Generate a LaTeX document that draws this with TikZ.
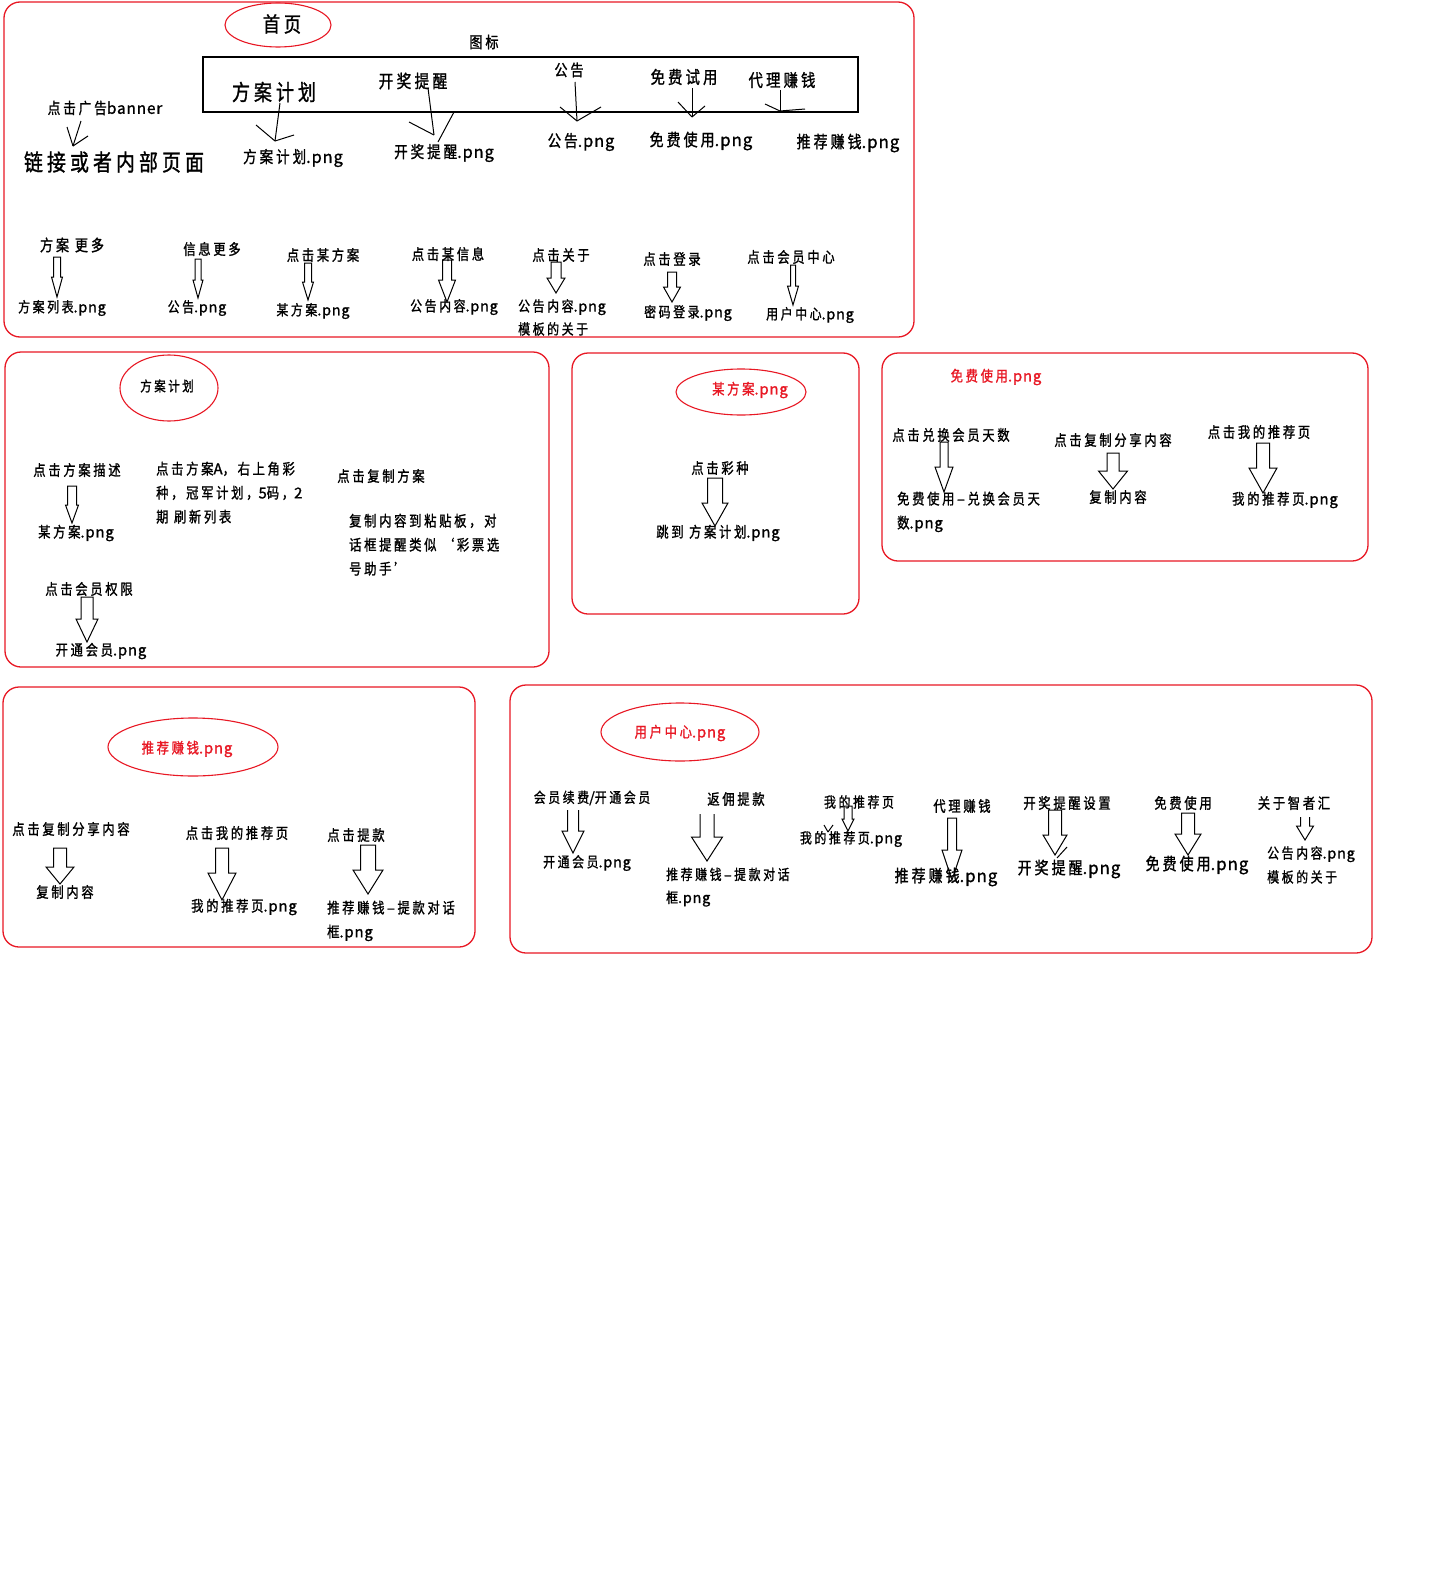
\documentclass[tikz,border=0pt]{standalone}
\usepackage{fontspec}
\usetikzlibrary{calc,shapes.geometric}
\newfontfamily\cjk[FakeStretch=0.82,LetterSpace=18,FakeBold=1.2]{Noto Sans CJK SC}
\newfontfamily\lat[LetterSpace=5,FakeBold=1.2]{Noto Sans CJK SC}
\newcommand\png{{\lat.png}}
\newcommand\dsh{{\lat\,–\,}}
\definecolor{pred}{RGB}{232,24,36}
\tikzset{
  panel/.style={draw=pred, line width=1.3pt, rounded corners=16pt},
  oval/.style={draw=pred, line width=1.1pt, ellipse, inner sep=0pt},
  lbl/.style={inner sep=0pt, font={\cjk\fontsize{15}{15}\selectfont}},
  fs/.style={font={\cjk\fontsize{#1}{#1}\selectfont}},
  fsl/.style 2 args={font={\cjk\fontsize{#1}{#2}\selectfont}, align=left, anchor=north west},
  rt/.style={text=pred},
  barr/.style={draw=black, line width=1pt, line join=miter},
  sk/.style={draw=black, line width=1pt}
}
% block arrow: name, x, ytop, yhead, ytip, shaft half width, head half width
\newcommand\barrow[7]{%
  \coordinate (#1t) at (#2,#3);
  \coordinate (#1h) at (#2,#5);
  \draw[barr] ($(#1t)+(-#6,0)$) -- (#2-#6,#4) -- (#2-#7,#4) -- (#1h) -- (#2+#7,#4) -- (#2+#6,#4) -- ($(#1t)+(#6,0)$) -- cycle;}
\newcommand\obarrow[7]{%
  \coordinate (#1t) at (#2,#3);
  \coordinate (#1h) at (#2,#5);
  \draw[barr] ($(#1t)+(-#6,0)$) -- (#2-#6,#4) -- (#2-#7,#4) -- (#1h) -- (#2+#7,#4) -- (#2+#6,#4) -- ($(#1t)+(#6,0)$);}
\begin{document}
\begin{tikzpicture}[x=1pt,y=-1pt]
\useasboundingbox[fill=white] (0,0) rectangle (1440,1592);

% ================= Panel 1 : home =================
\draw[panel] (4,2) rectangle (914,337);
\node[oval, minimum width=106, minimum height=44] (home) at (278,25) {};
\node[lbl, fs=21] (homet) at (282,24) {首页};
\node[lbl, fs=16] (icon) at (484,42) {图标};
\node[draw, line width=1.3pt, minimum width=655, minimum height=55, inner sep=0pt] (iconbar) at (530.5,84.5) {};
\node[lbl, fs=22] (tplan) at (274,92) {方案计划};
\node[lbl, fs=18] (tkj) at (413,81) {开奖提醒};
\node[lbl, fs=16] (tgg) at (569,70) {公告};
\node[lbl, fs=17.5] (tmf) at (684,77) {免费试用};
\node[lbl, fs=17.5] (tdl) at (782,80) {代理赚钱};
\node[lbl, fs=15.5] (tban) at (105,108) {点击广告{\lat banner}};
\node[lbl, fs=23] (tlink) at (114,162) {链接或者内部页面};
\node[lbl, fs=16.5] (pplan) at (293,158) {方案计划\png};
\node[lbl, fs=16.5] (pkj) at (444,153) {开奖提醒\png};
\node[lbl, fs=16.5] (pgg) at (581,142) {公告\png};
\node[lbl, fs=17] (pmf) at (701,141) {免费使用\png};
\node[lbl, fs=17] (ptj) at (848,143) {推荐赚钱\png};

% sketchy line arrows
\coordinate (s1a) at (81,121); \coordinate (s1b) at (73,146);
\draw[sk] (s1a) -- (s1b); \draw[sk] (s1b) -- ++(-6,-19); \draw[sk] (s1b) -- ++(15,-10);
\coordinate (s2a) at (280,103); \coordinate (s2b) at (275,141);
\draw[sk] (s2a) -- (s2b); \draw[sk] (s2b) -- ++(-19,-16); \draw[sk] (s2b) -- ++(19,-6);
\coordinate (s3a) at (428,88); \coordinate (s3b) at (434,135);
\draw[sk] (s3a) -- (s3b); \draw[sk] (s3b) -- ++(-25,-13); \draw[sk] (s3b) ++(4,7) -- ++(16,-30);
\coordinate (s4a) at (575,82); \coordinate (s4b) at (577,121);
\draw[sk] (s4a) -- (s4b); \draw[sk] (s4b) -- ++(-17,-14); \draw[sk] (s4b) -- ++(24,-14);
\coordinate (s5a) at (692,88); \coordinate (s5b) at (692,117);
\draw[sk] (s5a) -- (s5b); \draw[sk] (s5b) -- ++(-14,-15); \draw[sk] (s5b) -- ++(13,-11);
\coordinate (s6a) at (780,90); \coordinate (s6b) at (780,111);
\draw[sk] (s6a) -- (s6b); \draw[sk] (s6b) -- ++(-15,-7); \draw[sk] (s6b) -- ++(25,-2);

% lower row
\node[lbl, fs=16] (m1) at (72,245) {方案 更多};
\node[lbl, fs=14.5] (m1p) at (62,308) {方案列表\png};
\node[lbl] (m2) at (212,249) {信息更多};
\node[lbl, fs=14.5] (m2p) at (197,308) {公告\png};
\node[lbl] (m3) at (323,255) {点击某方案};
\node[lbl, fs=14.5] (m3p) at (313,311) {某方案\png};
\node[lbl] (m4) at (448,254) {点击某信息};
\node[lbl, fs=14.5] (m4p) at (454,307) {公告内容\png};
\node[lbl] (m5) at (561,255) {点击关于};
\node[lbl, fsl={14.5}{23}] (m5p) at (518,299) {公告内容\png\\模板的关于};
\node[lbl] (m6) at (672,259) {点击登录};
\node[lbl, fs=14.5] (m6p) at (688,313) {密码登录\png};
\node[lbl] (m7) at (791,257) {点击会员中心};
\node[lbl, fs=14.5] (m7p) at (810,315) {用户中心\png};
\barrow{a1}{57}{257}{277}{297}{3.5}{5.5}
\barrow{a2}{198}{259}{280}{298}{3}{5}
\barrow{a3}{308}{263}{282}{300}{3.5}{5.5}
\barrow{a4}{447}{260}{280}{302}{4.5}{8.5}
\barrow{a5}{556}{262}{278}{293}{5}{9}
\barrow{a6}{672}{272}{287}{302}{4.5}{8.5}
\barrow{a7}{793}{265}{286}{305}{2.5}{5.5}

% ================= Panel 2 : plan =================
\draw[panel] (5,352) rectangle (549,667);
\node[oval, minimum width=98, minimum height=66] (e2) at (169,388) {};
\node[lbl, fs=14] (e2t) at (167,386) {方案计划};
\node[lbl] (q1) at (77,470) {点击方案描述};
\node[lbl] (q1p) at (76,533) {某方案\png};
\node[lbl, fsl={15}{24}] (q2) at (156,461.5) {点击方案{\lat A}，右上角彩\\种，冠军计划，{\lat 5}码，{\lat 2}\\期 刷新列表};
\node[lbl] (q3) at (381,476) {点击复制方案};
\node[lbl, fsl={15}{24}] (q4) at (349,513.5) {复制内容到粘贴板，对\\话框提醒类似 ‘彩票选\\号助手’};
\node[lbl] (q5) at (89,589) {点击会员权限};
\node[lbl] (q5p) at (101,651) {开通会员\png};
\barrow{b1}{72}{486}{505}{523}{4.5}{6.5}
\barrow{b2}{87}{597}{619}{642}{6}{11}

% ================= Panel 3 : some plan =================
\draw[panel] (572,353) rectangle (859,614);
\node[oval, minimum width=130, minimum height=46] (e3) at (741,392) {};
\node[lbl, rt] (e3t) at (750,390) {某方案\png};
\node[lbl] (r1) at (720,468) {点击彩种};
\node[lbl] (r1p) at (718,533) {跳到 方案计划\png};
\barrow{c1}{715}{478}{503}{526}{7.5}{13}

% ================= Panel 4 : free use =================
\draw[panel] (882,353) rectangle (1368,561);
\node[lbl, rt] (f0) at (996,377) {免费使用\png};
\node[lbl] (f1) at (951,435) {点击兑换会员天数};
\node[lbl, fsl={15}{24}] (f1p) at (897,491.5) {免费使用\dsh 兑换会员天\\数\png};
\node[lbl] (f2) at (1113,440) {点击复制分享内容};
\node[lbl] (f2p) at (1118,497) {复制内容};
\node[lbl] (f3) at (1259,432) {点击我的推荐页};
\node[lbl] (f3p) at (1285,500) {我的推荐页\png};
\barrow{d1}{944}{442}{467}{492}{4}{9}
\barrow{d2}{1113}{453}{471}{489}{6}{14.5}
\barrow{d3}{1263}{443}{468}{493}{6.5}{14}

% ================= Panel 5 : referral =================
\draw[panel] (3,687) rectangle (475,947);
\node[oval, minimum width=170, minimum height=58] (e5) at (193,747) {};
\node[lbl, rt] (e5t) at (187,749) {推荐赚钱\png};
\node[lbl] (g1) at (71,829) {点击复制分享内容};
\node[lbl] (g1p) at (65,892) {复制内容};
\node[lbl] (g2) at (237,833) {点击我的推荐页};
\node[lbl] (g2p) at (244,907) {我的推荐页\png};
\node[lbl] (g3) at (356,835) {点击提款};
\node[lbl, fsl={15}{24}] (g3p) at (327,900.5) {推荐赚钱\dsh 提款对话\\框\png};
\barrow{h1}{60}{848}{867}{884}{6.5}{14}
\barrow{h2}{222}{848}{873}{900}{6.5}{14}
\barrow{h3}{368}{845}{870}{894}{7.5}{15}

% ================= Panel 6 : user center =================
\draw[panel] (510,685) rectangle (1372,953);
\node[oval, minimum width=158, minimum height=58] (e6) at (680,732) {};
\node[lbl, rt] (e6t) at (680,733) {用户中心\png};
\node[lbl, fs=14.5] (k1) at (592,798) {会员续费{\lat /}开通会员};
\node[lbl, fs=14.5] (k1p) at (587,863) {开通会员\png};
\node[lbl] (k2) at (736,799) {返佣提款};
\node[lbl, fsl={14.5}{23}] (k2p) at (666,867.5) {推荐赚钱\dsh 提款对话\\框\png};
\node[lbl, fs=14.5] (k3) at (859,802) {我的推荐页};
\node[lbl, fs=14.5] (k3p) at (851,839) {我的推荐页\png};
\node[lbl] (k4) at (962,806) {代理赚钱};
\node[lbl, fs=17] (k4p) at (946,877) {推荐赚钱\png};
\node[lbl] (k5) at (1067,803) {开奖提醒设置};
\node[lbl, fs=17] (k5p) at (1069,869) {开奖提醒\png};
\node[lbl] (k6) at (1183,803) {免费使用};
\node[lbl, fs=17] (k6p) at (1197,865) {免费使用\png};
\node[lbl] (k7) at (1294,803) {关于智者汇};
\node[lbl, fsl={14.5}{24}] (k7p) at (1267,846) {公告内容\png\\模板的关于};
\obarrow{n1}{573}{810}{831}{853}{5.5}{11}
\obarrow{n2}{707}{814}{837}{861}{7}{15.5}
\barrow{n3}{848}{806}{819}{831}{4}{6}
\coordinate (v1) at (828,832);
\draw[sk] (v1) -- ++(-4,-7); \draw[sk] (v1) -- ++(5,-7);
\barrow{n4}{952}{818}{850}{880}{4.5}{10}
\barrow{n5}{1055}{810}{835}{855}{6.5}{12}
\draw[sk] (n5h) ++(2,3) -- ++(10,-11);
\barrow{n6}{1188}{813}{834}{855}{6.5}{13}
\obarrow{n7}{1305}{817}{826}{840}{4.5}{8.5}
\end{tikzpicture}
\end{document}
